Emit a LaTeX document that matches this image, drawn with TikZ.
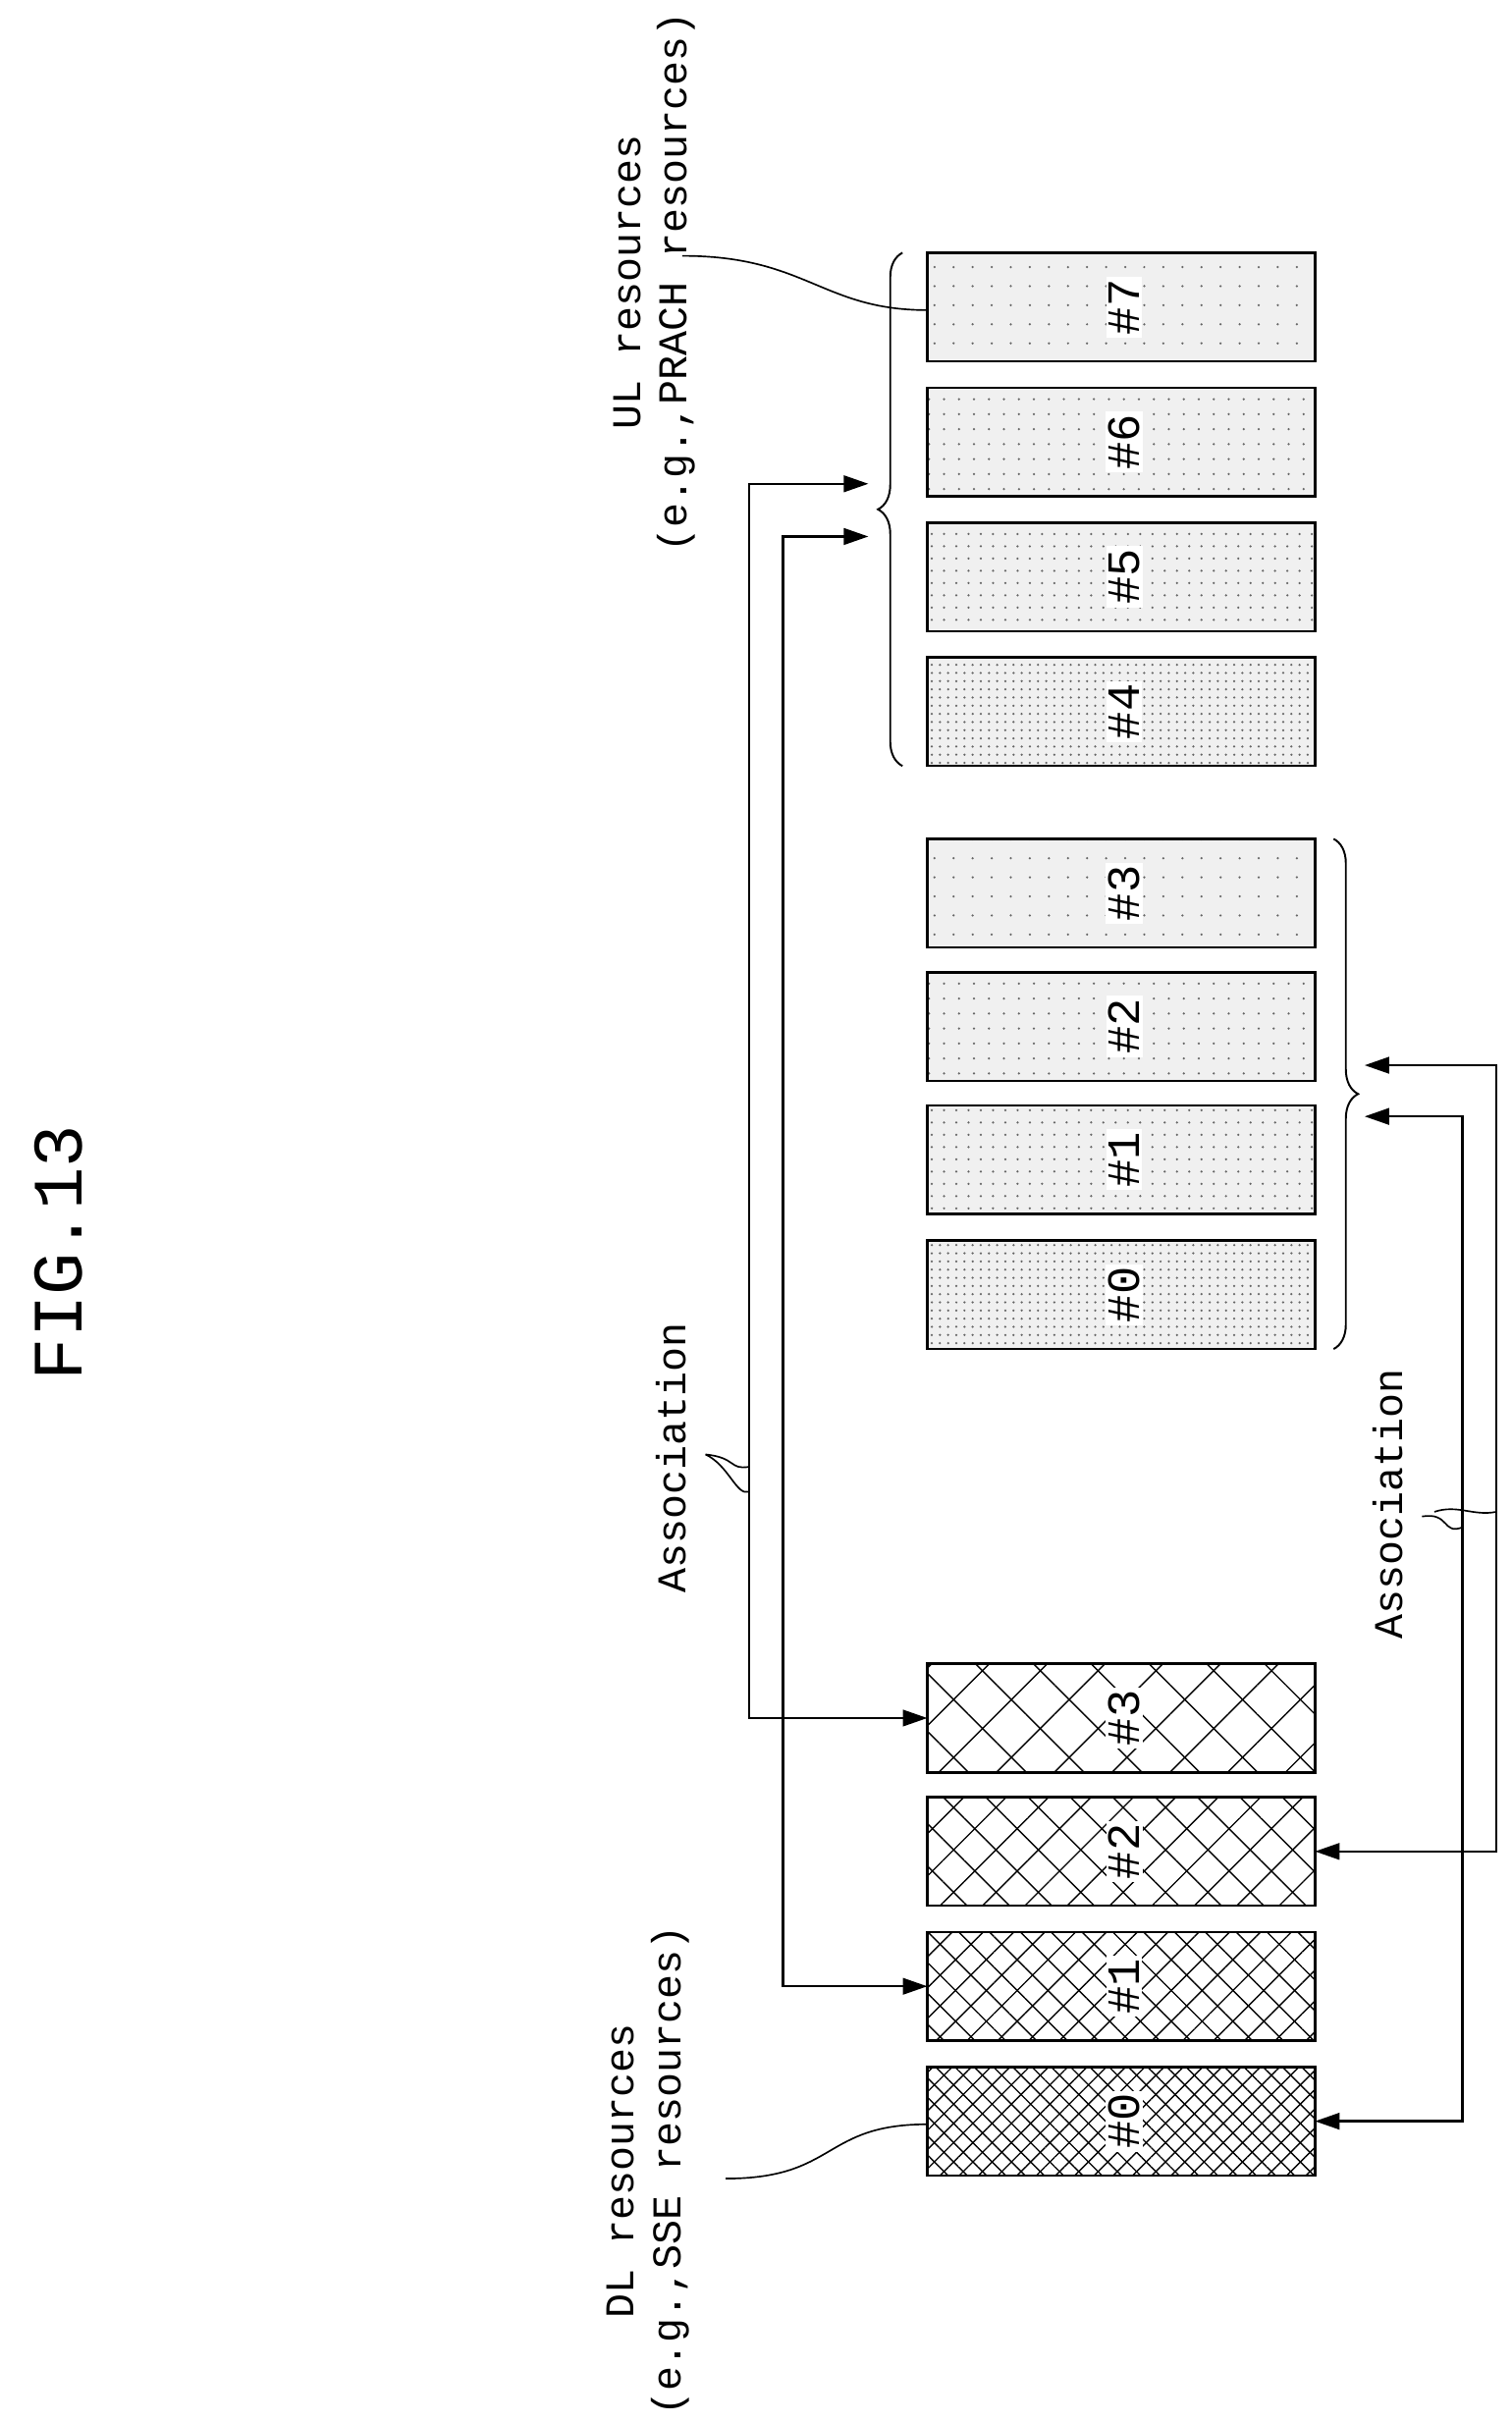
\documentclass[tikz,border=0pt]{standalone}
\usepackage{fontspec}
\setmainfont{Liberation Mono}
\usetikzlibrary{patterns.meta,decorations.pathreplacing,arrows.meta}
\begin{document}
\begin{tikzpicture}[x=0.02cm,y=-0.02cm,
  box/.style={draw,line width=0.9pt},
  lab/.style={rotate=90,font=\fontsize{17}{17}\selectfont,fill=white,inner sep=1pt},
  txt/.style={rotate=90,font=\fontsize{15}{17}\selectfont,align=center},
  con/.style={line width=0.9pt,{Triangle[length=9pt,width=6pt]}-{Triangle[length=9pt,width=6pt]}},
  lead/.style={line width=0.6pt}]
\useasboundingbox (0,0) rectangle (975,1562);
\node[rotate=90,font=\fontsize{26}{26}\selectfont] (fig) at (38,808) {FIG.13};
% UL boxes
\foreach \n/\y/\d in {0/800/3,1/713/4.5,2/627/5.5,3/541/7,4/424/3,5/337/4.5,6/250/5.5,7/163/7}{
  \fill[black!6] (598,\y) rectangle (848,\y+70);
  \fill[pattern={Dots[distance=\d pt,radius=0.45pt]},pattern color=black!60] (598,\y) rectangle (848,\y+70);
  \draw[box] (598,\y) rectangle (848,\y+70);
  \node[lab] (ul\n) at (725,\y+35) {\#\n};
}
% DL boxes
\foreach \n/\y/\d in {0/1333/5,1/1246/8,2/1159/11,3/1073/15}{
  \fill[pattern={Lines[angle=45,distance=\d pt,line width=0.5pt]}] (598,\y) rectangle (848,\y+70);
  \fill[pattern={Lines[angle=-45,distance=\d pt,line width=0.5pt]}] (598,\y) rectangle (848,\y+70);
  \draw[box] (598,\y) rectangle (848,\y+70);
  \node[lab] (dl\n) at (725,\y+35) {\#\n};
  \coordinate (dL\n) at (598,\y+35);
  \coordinate (dR\n) at (848,\y+35);
}
% braces
\draw[line width=0.7pt,decorate,decoration={brace,amplitude=9pt}] (582,494) -- (582,163);
\draw[line width=0.7pt,decorate,decoration={brace,amplitude=9pt}] (860,541) -- (860,870);
\coordinate (bA) at (560,312); \coordinate (bB) at (560,346);
\coordinate (bC) at (880,687); \coordinate (bD) at (880,720);
% connectors
\draw[con] (dL3) -| (483,312) -- (bA);
\draw[con] (dL1) -| (505,346) -- (bB);
\draw[con] (dR2) -| (965,687) -- (bC);
\draw[con] (dR0) -| (943,720) -- (bD);
% labels
\node[txt] (ult) at (422,182) {UL resources\\(e.g.,PRACH resources)};
\draw[lead] (440,165) .. controls (520,165) and (530,200) .. (598,200);
\node[txt] (dlt) at (418,1400) {DL resources\\(e.g.,SSE resources)};
\draw[lead] (468,1405) .. controls (540,1405) and (530,1370) .. (598,1370);
\node[txt] (as1) at (433,940) {Association};
\draw[lead] (455,938) .. controls (475,940) and (470,948) .. (483,946);
\draw[lead] (455,938) .. controls (470,945) and (475,965) .. (483,962);
\node[txt] (as2) at (895,970) {Association};
\draw[lead] (917,978) .. controls (935,975) and (930,990) .. (943,985);
\draw[lead] (925,975) .. controls (940,970) and (950,978) .. (965,975);
\end{tikzpicture}
\end{document}
